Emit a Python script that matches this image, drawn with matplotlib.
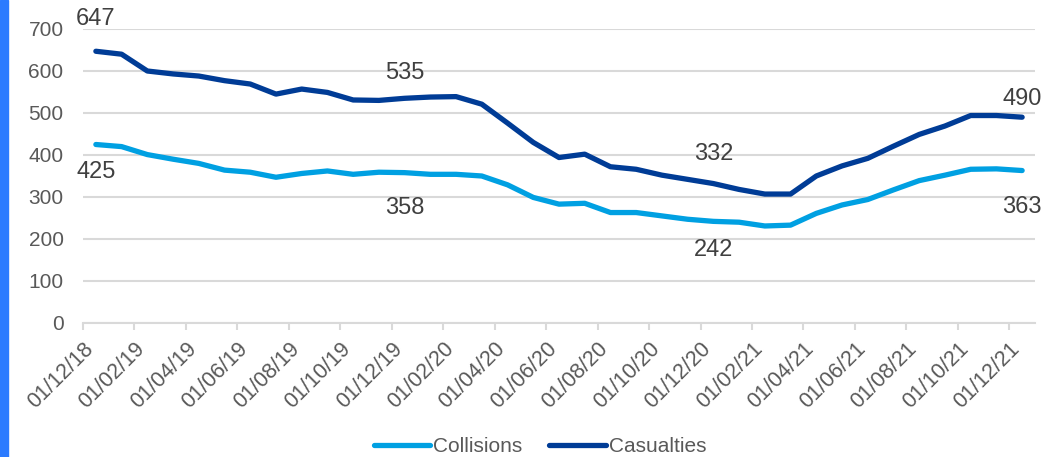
import matplotlib
matplotlib.use("Agg")
from matplotlib import pyplot as plt
import numpy as np

plt.rcParams["font.family"] = ["Liberation Sans", "DejaVu Sans"]

# monthly values, Dec 2018 .. Dec 2021
collisions = [425, 420, 401, 390, 380, 364, 359, 347, 356, 362, 354, 359,
              358, 354, 354, 350, 329, 299, 283, 285, 263, 263, 255, 247,
              242, 240, 231, 233, 261, 281, 294, 317, 339, 352, 366, 367,
              363]
casualties = [647, 640, 600, 593, 588, 577, 569, 545, 557, 549, 531, 530,
              535, 538, 539, 521, 476, 430, 394, 402, 372, 366, 352, 342,
              332, 318, 307, 307, 350, 374, 392, 421, 449, 469, 494, 494,
              490]
tick_labels = ["01/12/18", "01/02/19", "01/04/19", "01/06/19", "01/08/19",
               "01/10/19", "01/12/19", "01/02/20", "01/04/20", "01/06/20",
               "01/08/20", "01/10/20", "01/12/20", "01/02/21", "01/04/21",
               "01/06/21", "01/08/21", "01/10/21", "01/12/21"]
labelled = [0, 12, 24, 36]
# label distance from the point, in pixels
cas_offset = [32, 25, 30, 18]
col_offset = [27, 35, 29, 36]

light = "#00A0E2"
dark = "#003C96"
grid = "#D9D9D9"

fig = plt.figure(figsize=(10.43, 4.57), dpi=100)
ax = fig.add_axes([83 / 1043, 1 - 323 / 457, (1035 - 83) / 1043, (323 - 29) / 457])

# blue strip on the left edge
fig.patches.append(plt.Rectangle((0, 0), 8 / 1043, 1, transform=fig.transFigure,
                                 color="#2B7BFF", zorder=0))

x = np.arange(len(collisions))
ax.plot(x, collisions, color=light, lw=3.8, solid_capstyle="round", label="Collisions", zorder=3)
ax.plot(x, casualties, color=dark, lw=3.8, solid_capstyle="round", label="Casualties", zorder=3)

for k, i in enumerate(labelled):
    ax.annotate(str(casualties[i]), (x[i], casualties[i]), xytext=(0, cas_offset[k]),
                textcoords="offset pixels", ha="center", va="center",
                fontsize=17, color="#404040")
    ax.annotate(str(collisions[i]), (x[i], collisions[i]), xytext=(0, -col_offset[k]),
                textcoords="offset pixels", ha="center", va="center",
                fontsize=17, color="#404040")

ax.set_xlim(-0.5, len(collisions) - 0.5)
ax.set_ylim(0, 700)
ax.set_yticks(range(0, 701, 100))
ax.yaxis.grid(True, color=grid, lw=1.5)
ax.set_axisbelow(True)

ax.set_xticks(np.arange(len(tick_labels)) * 2 - 0.5)
ax.set_xticklabels(tick_labels, rotation=45, ha="right", rotation_mode="anchor")

for side in ["top", "right", "left"]:
    ax.spines[side].set_visible(False)
ax.spines["bottom"].set_color(grid)
ax.spines["bottom"].set_linewidth(1.5)

ax.tick_params(axis="y", length=0, pad=14, labelsize=15, labelcolor="#595959")
ax.tick_params(axis="x", length=5, width=1.5, color=grid, pad=6,
               labelsize=15.5, labelcolor="#595959")

fig.legend(loc="center", bbox_to_anchor=(540 / 1043, 1 - 447 / 457), ncol=2,
           frameon=False, fontsize=15, labelcolor="#595959",
           handlelength=2.7, handletextpad=0.15, columnspacing=1.3)

fig.savefig("out.png", dpi=100)
